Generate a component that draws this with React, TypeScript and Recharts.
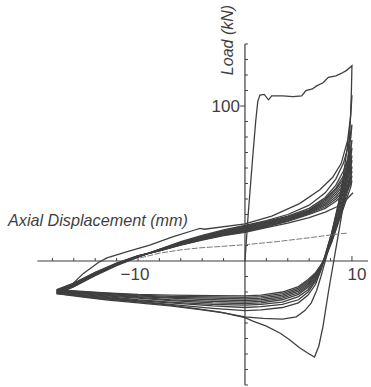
import { LineChart, Line, XAxis, YAxis, ReferenceLine, ReferenceDot } from "recharts";

type P = [number, number];

// first cycle: initial load, plateau, peak, unload to the deep minimum, back to the left tip
const cycle1: P[] = [
  [0, 0], [0.3, 30], [0.7, 65], [1.0, 90], [1.2, 103], [1.4, 107], [1.8, 107.5], [2.2, 104],
  [2.5, 106.5], [3.5, 106.5], [4.5, 106], [5.3, 106.5], [5.7, 110], [6.3, 111], [6.7, 113],
  [7.3, 115], [7.8, 118.5], [8.5, 119.5], [9.0, 121], [9.5, 123], [10, 126],
  [9.95, 110], [9.85, 90], [9.65, 65], [9.35, 45], [9.0, 28], [8.6, 12], [8.3, 0], [7.8, -20],
  [7.3, -42], [6.9, -55], [6.5, -62], [6.0, -60], [5.1, -56], [4.2, -51], [3.3, -46.6], [2, -42],
  [0.8, -39], [0, -36.5], [-2.3, -33], [-4.2, -31], [-7, -28.5], [-10.5, -26], [-13, -24.5],
  [-15.1, -23], [-17.6, -20.5],
];

const cycle2: P[] = [
  [-17.6, -20.5], [-16.7, -18.7], [-15.1, -8], [-13.7, -1], [-12.9, 2], [-11, 6], [-8.9, 10.3],
  [-6.7, 15.7], [-4.7, 20], [-4.2, 21], [-3.8, 20.5], [0, 24], [2.5, 29], [5.1, 37], [7, 46],
  [8.2, 54], [9, 63], [9.6, 78], [9.9, 95], [10, 107],
  [9.9, 95], [9.6, 75], [9.2, 55], [8.7, 35], [8.1, 15], [7.5, 0], [7.1, -10], [6.7, -19],
  [6.2, -27], [5.6, -32], [4.8, -36], [3.5, -37.5], [1.7, -37], [0, -36], [-2, -33.5],
  [-4, -31.5], [-7, -29], [-10, -27], [-13, -25], [-15.5, -23], [-17.6, -21],
];

const cycle3: P[] = [
  [-17.6, -21], [-16, -16.5], [-14, -9], [-12, -2.5], [-10, 2.5], [-8, 7.5], [-6, 12.5], [-4, 16.5],
  [-2, 20], [0, 23], [2, 26], [4, 30], [6, 36], [7.5, 44], [8.5, 53], [9.2, 63], [9.7, 75], [10, 88],
  [9.9, 80], [9.6, 66], [9.2, 52], [8.7, 36], [8.1, 18], [7.5, 3], [7.1, -6], [6.6, -15],
  [5.9, -22], [5, -27], [3.5, -30], [1.5, -31.5], [0, -32], [-3, -30.5], [-7, -28], [-10, -26],
  [-13, -24], [-15.5, -22.5], [-17.6, -21],
];

const cycle4: P[] = [
  [-17.6, -21], [-16, -16.5], [-14, -9.5], [-12, -3], [-10, 2.5], [-8, 7.5], [-6, 12], [-4, 16],
  [-2, 19.5], [0, 22.5], [2, 25.5], [4, 29], [6, 34], [7.5, 41], [8.5, 49], [9.2, 58], [9.7, 67], [10, 78],
  [9.9, 72], [9.6, 62], [9.2, 50], [8.7, 35], [8.1, 18], [7.5, 4], [7.1, -5], [6.6, -13],
  [5.9, -20], [5, -25], [3.5, -28], [1.5, -29.5], [0, -30], [-3, -29], [-7, -27], [-10, -25.5],
  [-13, -23.5], [-15.5, -22], [-17.6, -20.5],
];

const cycle5: P[] = [
  [-17.6, -20.5], [-16, -16], [-14, -9], [-12, -2.5], [-10, 2.7], [-8, 7.3], [-6, 11.8], [-4, 15.6],
  [-2, 19], [0, 22], [2, 25], [4, 28.5], [6, 33], [7.5, 40], [8.5, 47], [9.2, 55], [9.7, 63], [10, 73],
  [9.9, 67], [9.6, 58], [9.2, 47], [8.7, 33], [8.1, 17], [7.5, 3], [7.1, -5], [6.6, -12],
  [5.9, -18.5], [5, -23], [3.5, -26.5], [1.5, -28], [0, -28.5], [-3, -28], [-7, -26.5], [-10, -25],
  [-13, -23], [-15.5, -21.5], [-17.6, -20],
];

const cycle6: P[] = [
  [-17.6, -20], [-16, -15.5], [-14, -8.5], [-12, -2.2], [-10, 2.9], [-8, 7.2], [-6, 11.5], [-4, 15.2],
  [-2, 18.5], [0, 21.5], [2, 24.5], [4, 28], [6, 32.5], [7.5, 39], [8.5, 46], [9.2, 53], [9.7, 60], [10, 68],
  [9.9, 63], [9.6, 55], [9.2, 45], [8.7, 31], [8.1, 16], [7.5, 3], [7.1, -4], [6.6, -11],
  [5.9, -17], [5, -21.5], [3.5, -25], [1.5, -27], [0, -27.5], [-3, -27], [-7, -25.5], [-10, -24],
  [-13, -22.5], [-15.5, -21], [-17.6, -20],
];

const cycle7: P[] = [
  [-17.6, -20], [-16, -15.5], [-14, -8.3], [-12, -2], [-10, 3], [-8, 7], [-6, 11.2], [-4, 14.8],
  [-2, 18], [0, 21], [2, 24], [4, 27.5], [6, 32], [7.5, 38], [8.5, 44.5], [9.2, 51], [9.7, 58], [10, 65],
  [9.9, 60], [9.6, 52], [9.2, 42], [8.7, 29], [8.1, 15], [7.5, 2], [7.1, -4], [6.6, -10],
  [5.9, -16], [5, -20.5], [3.5, -24], [1.5, -26], [0, -26.5], [-3, -26], [-7, -25], [-10, -23.5],
  [-13, -22], [-15.5, -20.5], [-17.6, -19.5],
];

const cycle8: P[] = [
  [-17.6, -19.5], [-16, -15], [-14, -8], [-12, -1.8], [-10, 3], [-8, 6.9], [-6, 11], [-4, 14.5],
  [-2, 17.5], [0, 20.5], [2, 23.5], [4, 27], [6, 31.5], [7.5, 37], [8.5, 43], [9.2, 49], [9.7, 55], [10, 61],
  [9.9, 56], [9.6, 49], [9.2, 40], [8.7, 27], [8.1, 14], [7.5, 2], [7.1, -3.5], [6.6, -9],
  [5.9, -15], [5, -19.5], [3.5, -23], [1.5, -25], [0, -25.5], [-3, -25], [-7, -24], [-10, -23],
  [-13, -21.5], [-15.5, -20.5], [-17.6, -19.5],
];

const cycle9: P[] = [
  [-17.6, -19.5], [-16, -15], [-14, -8], [-12, -1.7], [-10, 3.1], [-8, 6.8], [-6, 10.8], [-4, 14.2],
  [-2, 17.2], [0, 20], [2, 23], [4, 26.5], [6, 31], [7.5, 36], [8.5, 41.5], [9.2, 47], [9.7, 52], [10, 58],
  [9.9, 54], [9.6, 47], [9.2, 38], [8.7, 26], [8.1, 13], [7.5, 2], [7.1, -3], [6.6, -8.5],
  [5.9, -14], [5, -18.5], [3.5, -22], [1.5, -24], [0, -24.5], [-3, -24], [-7, -23.5], [-10, -22.5],
  [-13, -21], [-15.5, -20], [-17.6, -19],
];

const cycle10: P[] = [
  [-17.6, -19], [-16, -14.8], [-14, -7.8], [-12, -1.6], [-10, 3.2], [-8, 6.7], [-6, 10.6], [-4, 14],
  [-2, 17], [0, 19.5], [2, 22.5], [4, 26], [6, 30.5], [7.5, 35], [8.5, 40], [9.2, 45], [9.7, 50], [10, 55],
  [9.9, 51], [9.6, 45], [9.2, 36], [8.7, 25], [8.1, 12.5], [7.5, 2], [7.1, -3], [6.6, -8],
  [5.9, -13], [5, -17.5], [3.5, -21], [1.5, -23], [0, -23.5], [-3, -23.2], [-7, -22.8], [-10, -22],
  [-13, -20.8], [-15.5, -19.8], [-17.6, -19],
];

const cycle11: P[] = [
  [-17.6, -19], [-16, -14.5], [-14, -7.5], [-12, -1.5], [-10, 3.3], [-8, 6.6], [-6, 10.4], [-4, 13.8],
  [-2, 16.7], [0, 19], [2, 22], [4, 25.5], [6, 30], [7.5, 34], [8.5, 38.5], [9.2, 43], [9.7, 47.5], [10, 52],
  [9.9, 48], [9.6, 42], [9.2, 34], [8.7, 24], [8.1, 12], [7.5, 2], [7.1, -2.5], [6.6, -7.5],
  [5.9, -12], [5, -16.5], [3.5, -20], [1.5, -22], [0, -22.5], [-3, -22.3], [-7, -22], [-10, -21.5],
  [-13, -20.5], [-15.5, -19.5], [-17.6, -18.5],
];

const cycle12: P[] = [
  [-17.6, -18.5], [-16, -14.3], [-14, -7.3], [-12, -1.3], [-10, 3.4], [-8, 6.5], [-6, 10.2], [-4, 13.5],
  [-2, 16.4], [0, 18.5], [2, 21.5], [4, 24.5], [6, 28], [7.5, 31.5], [8.6, 35], [9.4, 39], [10.1, 44],
];

// faint last reload
const lastReload: P[] = [
  [-9.8, 2], [-8, 5], [-6, 7.2], [-4.2, 8.5], [-2, 9.5], [0, 10.5], [3, 12.5], [6, 15], [8, 16.8], [9.5, 18],
];

const cycles = [cycle1, cycle2, cycle3, cycle4, cycle5, cycle6, cycle7, cycle8, cycle9, cycle10, cycle11, cycle12];

const xTicks = [-18, -16, -14, -12, -10, -8, -6, -4, -2, 2, 4, 6, 8, 10];
const yTicks = [-80, -70, -60, -50, -40, -30, -20, -10, 10, 20, 30, 40, 50, 60, 70, 80, 90, 100, 110, 120, 130, 140];

const toRows = (pts: P[]) => pts.map(([x, y]) => ({ x, y }));

const ink = "#3f3f3f";
const font = "'Liberation Sans', Arial, sans-serif";

const textLabel =
  (value: string, dx: number, dy: number, opts: { anchor?: string; size?: number; italic?: boolean; rotate?: boolean } = {}) =>
  (props: any) => {
    const vb = props.viewBox || {};
    const x = (vb.x ?? 0) + (vb.width ?? 0) / 2 + dx;
    const y = (vb.y ?? 0) + (vb.height ?? 0) / 2 + dy;
    return (
      <text
        x={x}
        y={y}
        textAnchor={opts.anchor ?? "middle"}
        fontSize={opts.size ?? 17}
        fontStyle={opts.italic ? "italic" : "normal"}
        fontFamily={font}
        fill={ink}
        transform={opts.rotate ? `rotate(-90 ${x} ${y})` : undefined}
      >
        {value}
      </text>
    );
  };

export default function App() {
  return (
    <div style={{ position: "absolute", left: 0, top: 0, width: 371, height: 387, background: "#fff" }}>
      <LineChart width={371} height={387} margin={{ top: 44, right: 3, bottom: 2, left: 31 }}>
        <XAxis type="number" dataKey="x" domain={[-20, 11.5]} hide allowDataOverflow />
        <YAxis type="number" dataKey="y" domain={[-80, 140]} hide allowDataOverflow />

        <ReferenceLine segment={[{ x: -19.4, y: 0 }, { x: 11.5, y: 0 }]} stroke={ink} strokeWidth={1.2} ifOverflow="visible" />
        <ReferenceLine segment={[{ x: 0, y: -80 }, { x: 0, y: 140 }]} stroke={ink} strokeWidth={1.2} ifOverflow="visible" />
        {xTicks.map((t) => (
          <ReferenceLine
            key={`xt${t}`}
            segment={[{ x: t, y: 0 }, { x: t, y: t === 10 || t === -10 ? 3.2 : 1.9 }]}
            stroke={ink}
            strokeWidth={1}
            ifOverflow="visible"
          />
        ))}
        {yTicks.map((t) => (
          <ReferenceLine
            key={`yt${t}`}
            segment={t === 100 ? [{ x: -0.45, y: t }, { x: 0, y: t }] : [{ x: 0, y: t }, { x: 0.28, y: t }]}
            stroke={ink}
            strokeWidth={1}
            ifOverflow="visible"
          />
        ))}

        {cycles.map((c, i) => (
          <Line
            key={`c${i}`}
            data={toRows(c)}
            dataKey="y"
            type="linear"
            dot={false}
            stroke={ink}
            strokeWidth={1.3}
            isAnimationActive={false}
          />
        ))}
        <Line
          data={toRows(lastReload)}
          dataKey="y"
          type="linear"
          dot={false}
          stroke="#7a7a7a"
          strokeWidth={1}
          strokeDasharray="6 1.5"
          isAnimationActive={false}
        />

        <ReferenceDot x={-10} y={0} r={0} ifOverflow="visible" label={{ content: textLabel("\u221210", -3, 19) }} />
        <ReferenceDot x={10} y={0} r={0} ifOverflow="visible" label={{ content: textLabel("10", 5, 19) }} />
        <ReferenceDot x={0} y={100} r={0} ifOverflow="visible" label={{ content: textLabel("100", -5, 6, { anchor: "end" }) }} />
        <ReferenceDot
          x={-20}
          y={0}
          r={0}
          ifOverflow="visible"
          label={{ content: textLabel("Axial Displacement (mm)", -23, -35, { anchor: "start", size: 16.2, italic: true }) }}
        />
        <ReferenceDot
          x={0}
          y={140}
          r={0}
          ifOverflow="visible"
          label={{ content: textLabel("Load (kN)", -12, -4, { anchor: "middle", size: 16, italic: true, rotate: true }) }}
        />
      </LineChart>
    </div>
  );
}
